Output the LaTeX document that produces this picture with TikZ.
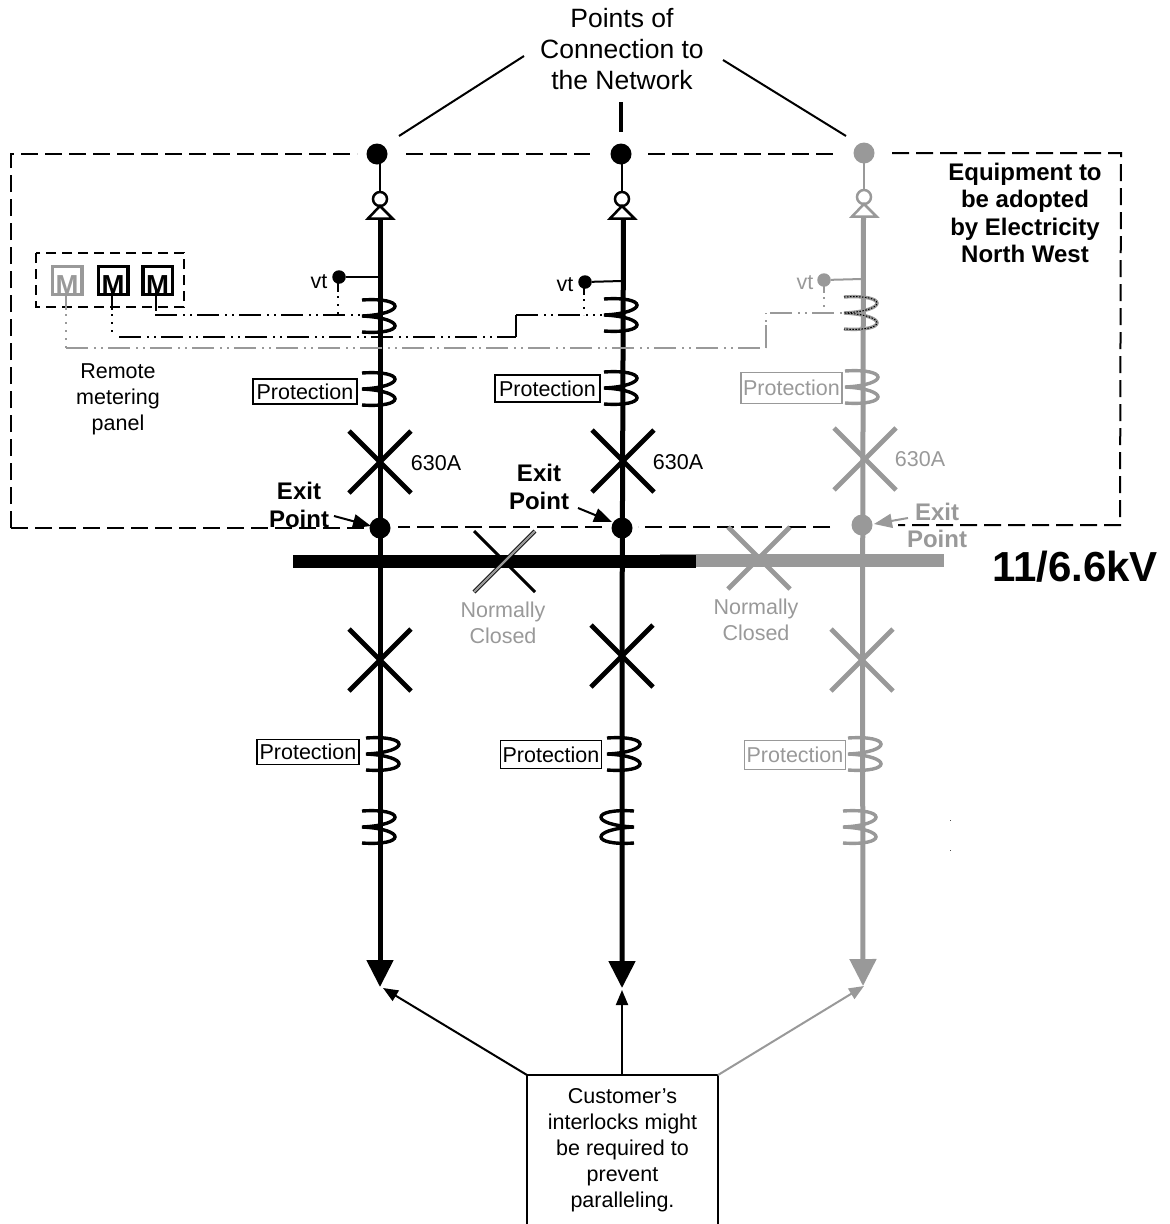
\documentclass[tikz,border=0pt]{standalone}
\usepackage{fontspec}
\setmainfont{Liberation Sans}
\usetikzlibrary{arrows.meta}
\definecolor{gr}{HTML}{999999}
\newcommand{\fs}[2]{\fontsize{#1}{#2}\selectfont}
% coil: left end x, centre y, colour
\newcommand{\coilR}[3]{\draw[coilline,#3] (#1,{#2-16}) .. controls ({#1+44},{#2-19}) and ({#1+44},{#2-2}) .. (#1,#2) .. controls ({#1+44},{#2+2}) and ({#1+44},{#2+19}) .. (#1,{#2+16});}
\newcommand{\coilL}[3]{\draw[coilline,#3] (#1,{#2-16}) .. controls ({#1-44},{#2-19}) and ({#1-44},{#2-2}) .. (#1,#2) .. controls ({#1-44},{#2+2}) and ({#1-44},{#2+19}) .. (#1,{#2+16});}
% breaker cross: x, y, half, colour
\newcommand{\brk}[4]{\draw[#4,line width=4.8pt] ({#1-#3},{#2-#3}) -- ({#1+#3},{#2+#3}) ({#1-#3},{#2+#3}) -- ({#1+#3},{#2-#3});}
\tikzset{
  x=1pt,y=-1pt,
  coilline/.style={line width=3.4pt},
  lbl/.style={inner sep=0pt,align=center,font=\fs{21.5}{26}},
  blbl/.style={inner sep=0pt,align=center,font=\fs{24}{27.5}\bfseries},
  prot/.style={draw,line width=1.8pt,inner sep=0pt,font=\fs{21.5}{26},minimum height=25pt,minimum width=102pt},
  bigdot/.style={circle,fill,inner sep=0pt,minimum size=21pt},
  vtdot/.style={circle,fill,inner sep=0pt,minimum size=13.5pt},
  ring/.style={circle,draw=#1,fill=white,line width=2.5pt,inner sep=0pt,minimum size=14pt},
  mbox/.style={draw,line width=3.5pt,minimum width=29.5pt,minimum height=28pt,inner sep=0pt},
  mtext/.style={inner sep=0pt,font=\fs{27.5}{27.5}\bfseries},
  bnd/.style={line width=2pt,dash pattern=on 17pt off 7pt},
  ddot/.style={line width=2pt,dash pattern=on 22pt off 6pt on 2pt off 5pt on 2pt off 5pt},
  dots/.style={line width=2pt,dash pattern=on 2pt off 6pt},
  thin/.style={line width=2pt},
  feeder/.style={line width=5pt,-{Triangle[length=27pt,width=26pt]}},
  ptr/.style={line width=2pt,-{Triangle[length=15pt,width=12pt]}},
  xptr/.style={line width=2pt,-{Triangle[length=18pt,width=14pt]}},
}
\begin{document}
\begin{tikzpicture}
\useasboundingbox (0,0) rectangle (1170,1224);
% coordinates
\coordinate (tl) at (11,154);
\coordinate (bl) at (11,528);
\coordinate (tr) at (1121,153);
\coordinate (br) at (1120,525);
\coordinate (tip1) at (380,987);
\coordinate (tip2) at (622,988);
\coordinate (tip3) at (863,986);
\coordinate (tri1) at (380,218);
\coordinate (tri2) at (623.5,218);
\coordinate (tri3) at (863.5,216);

% boundary
\node[bigdot] (d1) at (377,154) {};
\node[bigdot] (d2) at (621,154) {};
\node[bigdot,gr] (d3) at (864,153) {};
\node[bigdot] (e1) at (380,528) {};
\node[bigdot] (e2) at (622,528) {};
\node[bigdot,gr] (e3) at (862,525) {};
\draw[bnd] (bl) -- (tl) -- ([xshift=-20pt]d1.center);
\draw[bnd] ([xshift=29pt]d1.center) -- ([xshift=-31pt]d2.center);
\draw[bnd] ([xshift=27pt]d2.center) -- ([xshift=-30pt,yshift=-1pt]d3.center);
\draw[bnd] ([xshift=28pt]d3.center) -- (tr) -- (br) -- ([xshift=36pt]e3.center);
\draw[bnd] ([xshift=-32pt,yshift=-2pt]e3.center) -- ([xshift=16pt,yshift=1pt]e2.center);
\draw[bnd] ([xshift=-20pt,yshift=1pt]e2.center) -- ([xshift=18pt,yshift=1pt]e1.center);
\draw[bnd] (bl) -- ([xshift=-12pt]e1.center);

% top pointers
\node[lbl,font=\fs{26.5}{31}] (poc) at (622,49) {Points of\\Connection to\\the Network};
\coordinate (p1) at (524,56);
\coordinate (p2) at (723,60);
\coordinate (p3) at (621,102);
\draw[thin] (p1) -- (399,136);
\draw[thin] (p2) -- (846,136);
\draw[line width=3.5pt] (p3) -- (621,132);

% feeders
\draw[feeder] (tri1) -- (tip1);
\draw[feeder] (tri2) -- (622,640) -- (tip2);
\draw[feeder,gr] (tri3) -- (862.5,640) -- (tip3);
% busbar
\fill (293,555) rectangle (696,567.5);
\fill[gr] (696,553.5) rectangle (944,567);
\fill[gr] (660,553.5) rectangle (696,555);
% source connection
\node[ring=black] (r1) at (380,199) {};
\node[ring=black] (r2) at (622,199) {};
\node[ring=gr] (r3) at (864,197) {};
\draw[thin] (d1.center -| r1) -- (r1);
\draw[thin] (d2.center -| r2) -- (r2);
\draw[thin,gr] (d3.center -| r3) -- (r3);
\draw[line width=2.5pt,fill=white] (380,206) -- (368,218.5) -- (392.5,218.5) -- cycle;
\draw[line width=2.5pt,fill=white] (622,206) -- (610,218.5) -- (634.5,218.5) -- cycle;
\draw[line width=2.5pt,draw=gr,fill=white] (864,204) -- (852,216.5) -- (876.5,216.5) -- cycle;

% vt
\node[vtdot] (v1) at (339,277) {};
\node[vtdot] (v2) at (585,282) {};
\node[vtdot,gr] (v3) at (824,280) {};
\draw[thin] (v1) -- (378,277);
\draw[thin] (v2) -- (622,281);
\draw[thin,gr] (v3) -- (862,279);
\node[lbl] (vt1) at (319,282) {vt};
\node[lbl] (vt2) at (565,285) {vt};
\node[lbl,text=gr] (vt3) at (805,283) {vt};

% metering panel
\draw[line width=2.5pt,dash pattern=on 10pt off 6pt] (36,253) rectangle (184,307);
\node[mbox,gr] (m1) at (67,280.5) {};
\node[mbox] (m2) at (113,280.5) {};
\node[mbox] (m3) at (157.5,280.5) {};
\node[mtext,text=gr] (mt1) at (67,285.5) {M};
\node[mtext] (mt2) at (113,285.5) {M};
\node[mtext] (mt3) at (157.5,285.5) {M};

% metering wires
\draw[thin] (156,288) -- (156,311);
\draw[ddot] (155,315) -- (361,315);
\draw[thin] (338,277) -- (338,292);
\draw[dots] (338,296) -- (338,315);
\draw[thin] (112,288) -- (112,310);
\draw[dots] (112,314) -- (112,337);
\draw[ddot] (119,337) -- (516,337);
\draw[thin] (516,337) -- (516,315);
\draw[ddot] (516,315) -- (602,315);
\draw[thin] (584,282) -- (584,295);
\draw[dots] (584,299) -- (584,315);
\draw[thin,gr] (66,296) -- (66,310);
\draw[dots,gr] (66,314) -- (66,348);
\draw[ddot,gr] (66,348) -- (766,348);
\draw[thin,gr] (766,348) -- (766,325);
\draw[dots,gr] (766,322) -- (766,313);
\draw[ddot,gr] (770,313) -- (844,313);
\draw[thin,gr] (824,280) -- (824,293);
\draw[dots,gr] (824,297) -- (824,313);

% coils
\coilR{362}{316}{black}
\coilR{604}{315}{black}
\coilR{844}{313}{gr}
\draw[black,line width=1pt,dash pattern=on 1.5pt off 1.5pt] (844,297) .. controls (888,294) and (888,311) .. (844,313) .. controls (888,315) and (888,332) .. (844,329);
\coilR{362}{389}{black}
\coilR{604}{388}{black}
\coilR{845}{387}{gr}
\coilR{366}{754}{black}
\coilR{607}{754}{black}
\coilR{848}{754}{gr}
\coilR{362}{827}{black}
\coilL{634}{827}{black}
\coilR{843}{827}{gr}

% protection boxes
\node[prot,minimum width=104pt] (pa1) at (305,391.5) {Protection};
\node[prot,minimum width=105pt,minimum height=27pt] (pa2) at (547.5,388.5) {Protection};
\node[prot,gr,text=gr,minimum width=101pt,minimum height=31pt] (pa3) at (791.5,388) {Protection};
\node[prot,minimum width=102pt] (pb1) at (308,752) {Protection};
\node[prot,minimum width=101pt,minimum height=28pt] (pb2) at (551,754.5) {Protection};
\node[prot,gr,text=gr,minimum width=101pt,minimum height=29pt] (pb3) at (795,755) {Protection};

% breakers
\brk{380}{462}{31}{black}
\brk{623}{461}{31}{black}
\brk{865}{459}{31}{gr}
\brk{380}{660}{31}{black}
\brk{622}{656}{31}{black}
\brk{862}{660}{31}{gr}
% bus section switches
\draw[line width=3pt] (474,531) -- (535,592);
\draw[line width=4pt] (474,592) -- (535,531);
\draw[line width=2.4pt,gr] (474,592) -- (535,531);
\brk{759}{558}{31}{gr}

% labels
\node[lbl] (a1) at (436,463) {630A};
\node[lbl] (a2) at (678,462) {630A};
\node[lbl,text=gr] (a3) at (920,459) {630A};
\node[lbl] (rm) at (118,399) {Remote\\metering\\panel};
\node[lbl,text=gr] (nc1) at (503,623) {Normally\\Closed};
\node[lbl,text=gr] (nc2) at (756,620) {Normally\\Closed};
\node[blbl] (eq) at (1025,213) {Equipment to\\be adopted\\by Electricity\\North West};
\node[blbl] (x1) at (299,505) {Exit\\Point};
\node[blbl] (x2) at (539,487) {Exit\\Point};
\node[blbl,text=gr] (x3) at (937,525.5) {Exit\\Point};
\node[inner sep=0pt,font=\fs{42}{46}\bfseries] (kv) at (1075,567) {11/6.6kV};

% exit pointers
\coordinate (xa1) at (334,516);
\coordinate (xa2) at (578,508);
\coordinate (xa3) at (908,518);
\draw[xptr] (xa1) -- (371,526);
\draw[xptr] (xa2) -- (612,522);
\draw[xptr,gr] (xa3) -- (874,524);

% specks
\fill[black!70] (950,820) rectangle (951,821);
\fill[black!70] (950,850) rectangle (951,851);

% customer box
\node[lbl,anchor=north] (cb) at (622.5,1088.5) {Customer's\\interlocks might\\be required to\\prevent\\paralleling.};
\coordinate (c1) at (527,1075);
\coordinate (c2) at (718,1075);
\coordinate (c3) at (622,1075);
\draw[line width=1.5pt] (527,1224) -- (c1) -- (c2) -- (718,1224);
\draw[ptr] (c1) -- (383,988);
\draw[ptr] (c3) -- (622,990);
\draw[ptr,gr] (c2) -- (864,986);
\end{tikzpicture}
\end{document}
